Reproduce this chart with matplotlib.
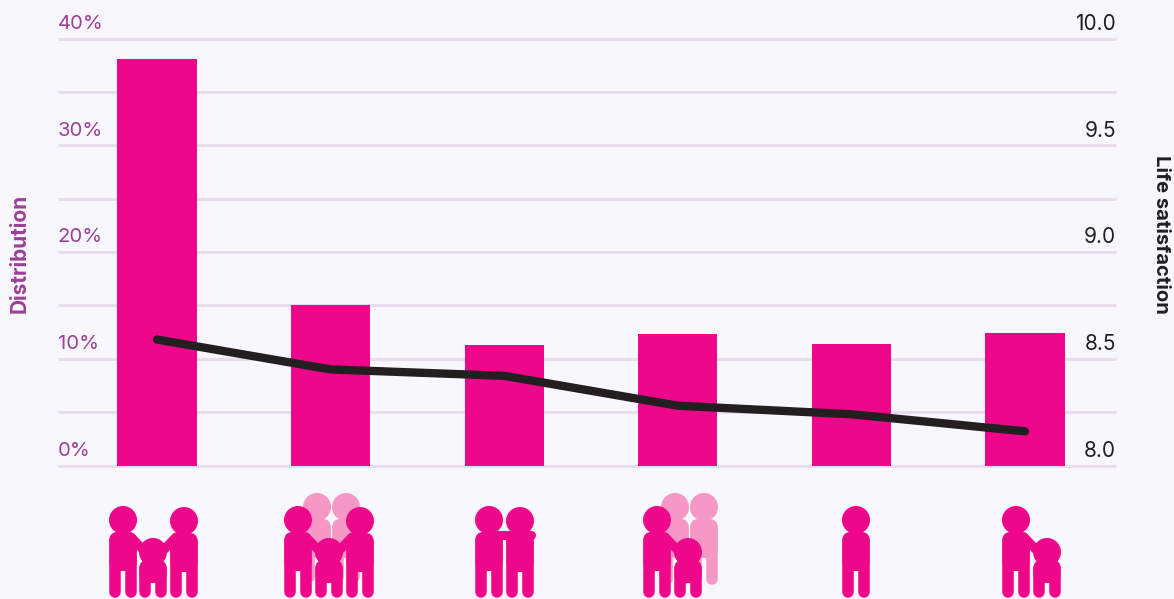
"""
Household type: share of people (bars) and life satisfaction (line).
"""
import matplotlib
matplotlib.use("Agg")
import matplotlib.pyplot as plt
from matplotlib.patches import Circle, FancyBboxPatch

distribution = [38.1, 15.0, 11.25, 12.3, 11.4, 12.4]
satisfaction = [8.59, 8.45, 8.42, 8.28, 8.24, 8.16]
dist_ticks = [0, 10, 20, 30, 40]
sat_ticks = [8.0, 8.5, 9.0, 9.5, 10.0]

BG = "#f8f7fd"
PINK = "#ee078b"
FADED = "#f598c5"
GRID = "#e9dcec"
PURPLE = "#9c3f98"
DARK = "#231f20"
FONT = ["Inter", "DejaVu Sans"]

W, H = 1174, 599
X0, X1, Y_TOP, Y_BOT = 58, 1116, 38.5, 465.5

plt.rcParams["font.family"] = FONT
fig = plt.figure(figsize=(W / 100, H / 100), dpi=100, facecolor=BG)
ax = fig.add_axes([X0 / W, 1 - Y_BOT / H, (X1 - X0) / W, (Y_BOT - Y_TOP) / H])
ax.set_facecolor("none")

x = list(range(len(distribution)))
ax.set_xlim(-0.570, 5.524)
ax.set_ylim(0, 40)
for g in range(0, 45, 5):
    ax.axhline(g, color=GRID, lw=2.2, zorder=1, clip_on=False, solid_capstyle="butt")
ax.bar(x, distribution, width=0.457, color=PINK, zorder=2)
for s in ax.spines.values():
    s.set_visible(False)
ax.set_xticks([])
ax.set_yticks([])

ax2 = ax.twinx()
ax2.set_ylim(8, 10)
ax2.set_yticks([])
for s in ax2.spines.values():
    s.set_visible(False)
ax2.plot(x, satisfaction, color=DARK, lw=6, solid_capstyle="round",
         solid_joinstyle="round", zorder=3)

for t in dist_ticks:
    ax.annotate(f"{t}%", (0, t), xycoords=ax.get_yaxis_transform(), xytext=(0, 10.5),
                textcoords="offset points", ha="left", va="center",
                color=PURPLE, fontsize=14.6)
for t in sat_ticks:
    ax2.annotate(f"{t:.1f}", (1, t), xycoords=ax2.get_yaxis_transform(), xytext=(0, 10.5),
                 textcoords="offset points", ha="right", va="center",
                 color=DARK, fontsize=15)
fig.text(20 / W, 1 - 253 / H, "Distribution", rotation=90, ha="center", va="center",
         color=PURPLE, fontsize=15, fontweight="bold")
fig.text(1161 / W, 1 - 234 / H, "Life satisfaction", rotation=270, ha="center", va="center",
         color=DARK, fontsize=14.6, fontweight="bold")

# icons row, drawn in pixel coords
ic = fig.add_axes([0, 0, 1, 1])
ic.set_xlim(0, W)
ic.set_ylim(H, 0)
ic.axis("off")
ic.patch.set_alpha(0)


def person(cx, head_y, top, split_y, bottom, color, z=5):
    ic.add_patch(Circle((cx, head_y), 14, fc=color, ec="none", zorder=z))
    # torso ends where the legs part, the legs hide its lower corners
    ic.add_patch(FancyBboxPatch((cx - 5.5, top + 8), 11, split_y - top - 16,
                                boxstyle="round,pad=8,rounding_size=8", fc=color, ec="none",
                                zorder=z))
    for dx in (-7.75, 7.75):
        ic.plot([cx + dx, cx + dx], [top + 8, bottom - 5.75], color=color, lw=8.3,
                solid_capstyle="round", zorder=z)


def adult(cx, head_y=520, color=PINK, bottom=598, z=5):
    person(cx, head_y, head_y + 12, head_y + 51, bottom, color, z)


def child(cx):
    person(cx, 552, 560, 583, 598, PINK, 6)


def arm(x0, y0, x1, y1):
    ic.plot([x0, x1], [y0, y1], color=PINK, lw=6.5, solid_capstyle="round", zorder=5)


# both parents, child
adult(123)
adult(184, 521)
child(153)
arm(131, 537, 149, 556)
arm(176, 537, 158, 556)

# both parents, child, faded grandparents
adult(317, 507, FADED, 583, 4)
adult(346, 507, FADED, 583, 4)
adult(298)
adult(360, 521)
child(329)
arm(306, 537, 324, 556)
arm(352, 537, 334, 556)

# couple
adult(489)
adult(520, 521)
arm(495, 535, 531, 535)

# parent, child, faded pair
adult(675, 507, FADED, 585, 4)
adult(704, 507, FADED, 585, 4)
adult(657)
child(688)
arm(665, 537, 683, 556)

# single
adult(856)

# single parent with child
adult(1016)
child(1047)
arm(1024, 537, 1042, 556)

fig.savefig("out.png", dpi=100, facecolor=BG)
